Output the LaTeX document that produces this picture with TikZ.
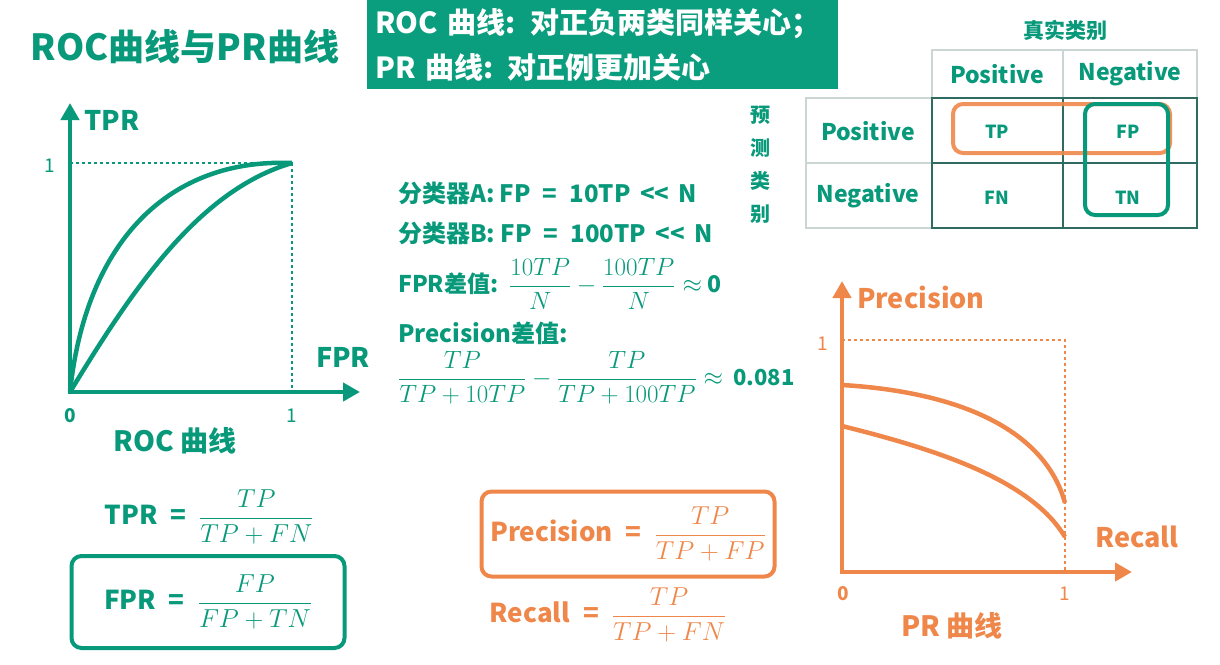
\RequirePackage{fix-cm}
\documentclass[tikz,border=0pt]{standalone}
\usepackage{amsmath}
\usepackage{fontspec}
\setmainfont{Noto Sans CJK SC}
\usepackage{xcolor}
\usetikzlibrary{arrows.meta,positioning,calc}

\definecolor{rocgreen}{HTML}{08997A}
\definecolor{boxgreen}{HTML}{0A9E7E}
\definecolor{prorange}{HTML}{EF874A}
\definecolor{gridteal}{HTML}{2F6B61}
\definecolor{gridgray}{HTML}{CBD5D3}

\newcommand{\fs}[1]{\fontsize{#1}{#1}\selectfont}
\newcommand{\eqs}{\enspace=\enspace}

\begin{document}
\begin{tikzpicture}[
    x=1pt, y=-1pt,
    >={Triangle[length=17pt,width=18pt]},
    lbl/.style={inner sep=0pt, font=\bfseries\fs{22}},
    axis/.style={line width=4.5pt, ->},
    curve/.style={line width=4.5pt},
    hint/.style={line width=1.3pt, dash pattern=on 3pt off 3pt},
    frm/.style={draw, rounded corners=10pt, line width=4pt}
]
    \useasboundingbox (0,0) rectangle (1220,664);

    % title and note
    \node[lbl, text=rocgreen, font=\bfseries\fs{36}] (title) at (185,47) {ROC曲线与PR曲线};
    \node[fill=boxgreen, text=white, anchor=north west, minimum width=471pt,
          minimum height=88pt, text width=455pt, inner sep=8pt, align=left,
          font=\bfseries\fontsize{29}{45}\selectfont] (note) at (367,0)
        {ROC 曲线: 对正负两类同样关心；\\PR 曲线: 对正例更加关心};

    % ROC plot
    \coordinate (O1) at (70,392);
    \coordinate (Y1) at (70,103);
    \coordinate (X1) at (360,392);
    \coordinate (P1) at (292,163);
    \draw[hint, rocgreen] (Y1 |- P1) -- (P1) -- (P1 |- O1);
    \draw[curve, rocgreen] (O1) .. controls (86,240) and (170,158) .. (P1);
    \draw[curve, rocgreen] (O1) .. controls (135,285) and (200,190) .. (P1);
    \draw[axis, rocgreen] ([yshift=2pt]O1) -- (Y1);
    \draw[axis, rocgreen] ([xshift=-2pt]O1) -- (X1);
    \node[lbl, text=rocgreen, font=\bfseries\fs{27}] (tpr) at (112,120) {TPR};
    \node[lbl, text=rocgreen, font=\bfseries\fs{27}] (fpr) at (343,357) {FPR};
    \node[lbl, text=rocgreen, font=\fs{19}] (one1) at (50,166) {1};
    \node[lbl, text=rocgreen, font=\bfseries\fs{19}] (zero1) at (70,416) {0};
    \node[lbl, text=rocgreen, font=\fs{19}] (onex1) at (292,416) {1};
    \node[lbl, text=rocgreen, font=\bfseries\fs{28}] (roc) at (175,441) {ROC 曲线};

    % ROC formulas
    \node[lbl, text=rocgreen, font=\bfseries\fs{26}] (tprf) at (209,517)
        {TPR\eqs$\dfrac{TP}{TP+FN}$};
    \node[frm, rocgreen, lbl, font=\bfseries\fs{26}, minimum width=273pt,
          minimum height=92pt] (fprf) at (208,602)
        {FPR\eqs$\dfrac{FP}{FP+TN}$};

    % two classifiers
    \node[lbl, text=rocgreen, anchor=west, font=\bfseries\fs{24}] (clsa) at (398,193)
        {分类器A: FP\eqs10TP \,<\kern0pt<\, N};
    \node[lbl, text=rocgreen, anchor=west, font=\bfseries\fs{24}] (clsb) at (398,233)
        {分类器B: FP\eqs100TP \,<\kern0pt<\, N};
    \node[lbl, text=rocgreen, anchor=west, font=\bfseries\fs{23}] (fprd) at (398,284)
        {FPR差值: \,{\fs{25}$\dfrac{10TP}{N}-\dfrac{100TP}{N}\approx$} 0};
    \node[lbl, text=rocgreen, anchor=west, font=\bfseries\fs{24}] (precd) at (398,333)
        {Precision差值:};
    \node[lbl, text=rocgreen, anchor=west, font=\bfseries\fs{22}] (precv) at (398,378)
        {{\fs{25}$\dfrac{TP}{TP+10TP}-\dfrac{TP}{TP+100TP}\approx$}\ \ 0.081};

    % PR formulas
    \node[frm, prorange, lbl, font=\bfseries\fs{26}, minimum width=293pt,
          minimum height=85pt] (precf) at (628,534)
        {Precision\eqs$\dfrac{TP}{TP+FP}$};
    \node[lbl, text=prorange, font=\bfseries\fs{26}] (recf) at (608,615)
        {Recall\eqs$\dfrac{TP}{TP+FN}$};

    % PR plot
    \coordinate (O2) at (842,572);
    \coordinate (Y2) at (842,281);
    \coordinate (X2) at (1132,572);
    \coordinate (P2) at (1065,340);
    \draw[hint, prorange] (Y2 |- P2) -- (P2) -- (P2 |- O2);
    \draw[curve, prorange] (842,385) .. controls (960,392) and (1045,430) .. (1065,503);
    \draw[curve, prorange] (842,426) .. controls (930,448) and (1030,478) .. (1065,537);
    \draw[axis, prorange] ([yshift=2pt]O2) -- (Y2);
    \draw[axis, prorange] ([xshift=-2pt]O2) -- (X2);
    \node[lbl, text=prorange, font=\bfseries\fs{27}, anchor=west] (prec) at (857,297) {Precision};
    \node[lbl, text=prorange, font=\bfseries\fs{27}] (rec) at (1137,537) {Recall};
    \node[lbl, text=prorange, font=\fs{19}] (one2) at (823,344) {1};
    \node[lbl, text=prorange, font=\bfseries\fs{19}] (zero2) at (843,594) {0};
    \node[lbl, text=prorange, font=\fs{19}] (onex2) at (1065,594) {1};
    \node[lbl, text=prorange, font=\bfseries\fs{28}] (pr) at (952,626) {PR 曲线};

    % confusion matrix
    \draw[gridgray, line width=1.2pt] (932,50) rectangle (1197,98) (1063,50) -- (1063,98);
    \draw[gridgray, line width=1.2pt] (806,98) rectangle (932,228) (806,163) -- (932,163);
    \draw[gridteal, line width=1.5pt] (932,98) rectangle (1197,228)
        (1063,98) -- (1063,228) (932,163) -- (1197,163);
    \node[lbl, text=rocgreen, font=\bfseries\fs{21}] (truth) at (1065,30) {真实类别};
    \node[lbl, text=rocgreen, font=\bfseries\fs{20}, align=center] (pred) at (760,165)
        {预\\[13pt]测\\[13pt]类\\[13pt]别};
    \node[lbl, text=rocgreen, font=\bfseries\fs{23}] (colp) at (997,74) {Positive};
    \node[lbl, text=rocgreen, font=\bfseries\fs{23}] (coln) at (1130,74) {Negative};
    \node[lbl, text=rocgreen, font=\bfseries\fs{23}] (rowp) at (868,131) {Positive};
    \node[lbl, text=rocgreen, font=\bfseries\fs{23}] (rown) at (868,196) {Negative};
    \node[lbl, text=rocgreen, font=\bfseries\fs{18}] (tp) at (997,132) {TP};
    \node[lbl, text=rocgreen, font=\bfseries\fs{18}] (fp) at (1128,132) {FP};
    \node[lbl, text=rocgreen, font=\bfseries\fs{18}] (fn) at (997,198) {FN};
    \node[lbl, text=rocgreen, font=\bfseries\fs{18}] (tn) at (1128,198) {TN};
    \draw[frm, prorange, opacity=0.9] (953,104) rectangle (1170,153);
    \draw[frm, rocgreen] (1085,104) rectangle (1168,215);
\end{tikzpicture}
\end{document}
